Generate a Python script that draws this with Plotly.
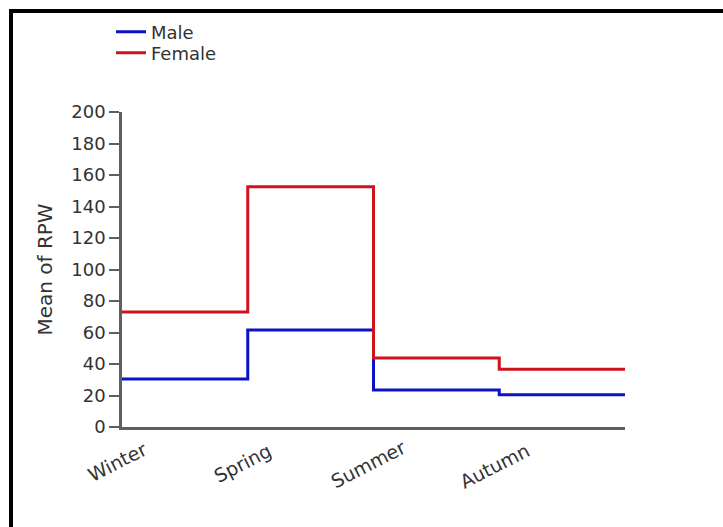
import plotly.graph_objects as go

# Mean RPW by season, split by sex
seasons = ["Winter", "Spring", "Summer", "Autumn"]
male_rpw = [30.5, 61.6, 23.5, 20.5]
female_rpw = [73.0, 152.5, 43.8, 36.6]
y_ticks = [0, 20, 40, 60, 80, 100, 120, 140, 160, 180, 200]

MALE_COLOR = "#0a12c4"
FEMALE_COLOR = "#cf121c"
AXIS_COLOR = "#5f5f5f"
TEXT_COLOR = "#333333"
FONT = "DejaVu Sans, sans-serif"

# plot-area geometry in pixels
W, H = 723, 527
L, R, T, B = 122, 98, 112, 100
PW, PH = W - L - R, H - T - B


def px_x(p):
    return (p - L) / PW


def px_y(p):
    return (H - B - p) / PH


# each season holds its value until the next season starts; the last one runs to the axis end
x_pos = list(range(len(seasons) + 1))


def stepped(values):
    return list(values) + [values[-1]]


fig = go.Figure()
fig.add_trace(go.Scatter(
    x=x_pos, y=stepped(male_rpw), name="Male", mode="lines", legend="legend",
    line=dict(color=MALE_COLOR, width=3, shape="hv"),
))
fig.add_trace(go.Scatter(
    x=x_pos, y=stepped(female_rpw), name="Female", mode="lines", legend="legend2",
    line=dict(color=FEMALE_COLOR, width=3, shape="hv"),
))

# rotated season labels centred under each step start
for i, s in enumerate(seasons):
    fig.add_annotation(
        x=i, y=0, xref="x", yref="y", text=s, showarrow=False,
        textangle=-27, yshift=-35 - 1.2 * i, xshift=-5,
        font=dict(family=FONT, size=19, color=TEXT_COLOR),
    )

# black frame along the top and left edges
fig.add_shape(type="line", xref="paper", yref="paper",
              x0=px_x(9), x1=px_x(740), y0=px_y(11), y1=px_y(11),
              line=dict(color="black", width=4))
fig.add_shape(type="line", xref="paper", yref="paper",
              x0=px_x(11), x1=px_x(11), y0=px_y(9), y1=px_y(540),
              line=dict(color="black", width=4))

legend_common = dict(
    xanchor="left", yanchor="middle", orientation="v", itemwidth=30,
    font=dict(family=FONT, size=18, color=TEXT_COLOR),
    bgcolor="rgba(0,0,0,0)", borderwidth=0,
)

fig.update_layout(
    width=W, height=H,
    margin=dict(l=L, r=R, t=T, b=B, autoexpand=False),
    paper_bgcolor="white", plot_bgcolor="white",
    font=dict(family=FONT, color=TEXT_COLOR, size=16),
    showlegend=True,
    legend=dict(x=px_x(111), y=px_y(32), **legend_common),
    legend2=dict(x=px_x(111), y=px_y(53), **legend_common),
    xaxis=dict(
        range=[0, len(seasons)], showgrid=False, zeroline=False,
        showline=True, linecolor=AXIS_COLOR, linewidth=2.5,
        showticklabels=False, ticks="", fixedrange=True,
    ),
    yaxis=dict(
        range=[0, 200], tickvals=y_ticks, showgrid=False, zeroline=False,
        showline=True, linecolor=AXIS_COLOR, linewidth=2.5,
        ticks="outside", ticklen=10, tickwidth=2, tickcolor=AXIS_COLOR,
        tickfont=dict(family=FONT, size=18, color=TEXT_COLOR),
        title=dict(text="Mean of RPW", standoff=14,
                   font=dict(family=FONT, size=20, color=TEXT_COLOR)),
    ),
)

fig.write_html("out.html")
